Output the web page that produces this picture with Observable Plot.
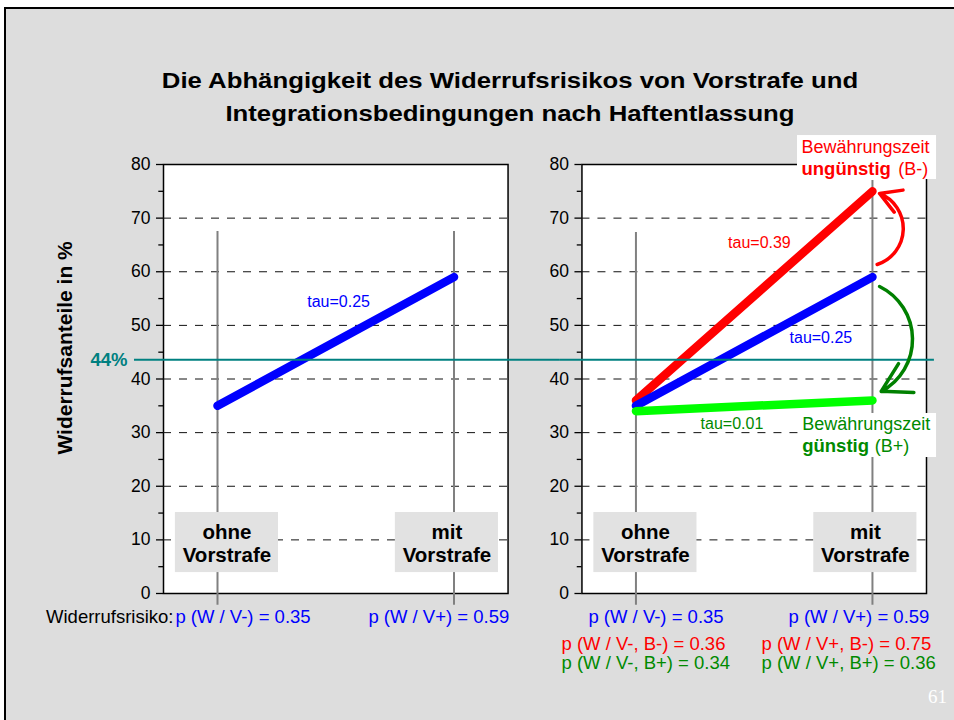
<!DOCTYPE html>
<html><head><meta charset="utf-8">
<script src="https://cdn.jsdelivr.net/npm/d3@7"></script>
<script src="https://cdn.jsdelivr.net/npm/@observablehq/plot@0.6"></script>
<style>
html,body{margin:0;padding:0;background:#fff;}
body{width:954px;height:720px;position:relative;overflow:hidden;font-family:"Liberation Sans",Arial,sans-serif;}
#slide{position:absolute;left:4px;top:7px;right:0;bottom:0;background:#dddddd;border-left:2px solid #000;border-top:2.5px solid #000;}
#chart{position:absolute;left:0;top:0;}
#title{position:absolute;left:33px;top:64px;width:954px;text-align:center;font-weight:bold;font-size:22px;line-height:33px;color:#000;transform:scaleX(1.17);transform-origin:50% 0;}
#pagenum{position:absolute;left:928px;top:687px;font-family:"Liberation Serif","Times New Roman",serif;font-size:19px;line-height:19px;color:#fff;}
</style></head>
<body>
<div id="slide"></div>
<div id="chart"></div>
<div id="title">Die Abhängigkeit des Widerrufsrisikos von Vorstrafe und<br>Integrationsbedingungen nach Haftentlassung</div>
<div id="pagenum">61</div>
<script>
// ---------- data ----------
const panels = ["links", "rechts"];
const vorstrafe = ["ohne\nVorstrafe", "mit\nVorstrafe"];
const condLabels = ["V-", "V+"];
const gesamt = [35, 59];        // Widerrufsanteil in %, alle
const bUnguenstig = [36, 75];   // Bewährungszeit ungünstig (B-)
const bGuenstig = [34, 36];     // Bewährungszeit günstig (B+)
const pGesamt = [0.35, 0.59];
const pUnguenstig = [0.36, 0.75];
const pGuenstig = [0.34, 0.36];
const tauGesamt = 0.25, tauUnguenstig = 0.39, tauGuenstig = 0.01;
const durchschnitt = 43.6;      // "44%"
const yTicks = [0, 10, 20, 30, 40, 50, 60, 70, 80];
const yMinor = [5, 15, 25, 35, 45, 55, 65, 75];
const gridValues = [10, 20, 30, 40, 50, 60, 70];

// ---------- styles ----------
const C = {gesamt: "#0000ff", unguenstig: "#ff0000", guenstig: "#00ff00",
  guenstigText: "#008a00", arrowGreen: "#008000", teal: "#008080", vline: "#808080", box: "#e2e2e2"};
const fmt = d3.format(".2f");

// ---------- layout (annotation anchors, data units) ----------
const W = 954, H = 720, mL = 163, mR = 28, mT = 164, mB = 127;
const padInner = 0.1766;
const bw = (W - mL - mR) * (1 - padInner) / (2 - padInner);
const x0px = 54, unit = 236.5;
const xDomain = [-x0px / unit, (bw - x0px) / unit];

const catCenter = [0.04, 0.97], catHalf = 0.218, catY = [3.9, 15.1], catTextY = 9.42;
const vTops = {links: [67.5, 67.5], rechts: [67.3, 77]}, vBottom = -2.2;

// ---------- derived rows ----------
const lineRows = [];
const addSeries = (panel, key, vals) => vals.forEach((v, i) => lineRows.push({panel, key, x: i, y: v}));
addSeries("rechts", "unguenstig", bUnguenstig);
addSeries("links", "gesamt", gesamt);
addSeries("rechts", "gesamt", gesamt);
addSeries("rechts", "guenstig", bGuenstig);

const vRows = panels.flatMap(p => [0, 1].map(i => ({panel: p, x: i, top: vTops[p][i]})));
const catRows = panels.flatMap(p => vorstrafe.map((label, i) => ({panel: p, x: catCenter[i], label})));

const tauRows = [
  {panel: "links", x: 0.512, y: 54.3, text: `tau=${fmt(tauGesamt)}`, color: C.gesamt},
  {panel: "rechts", x: 0.522, y: 65.3, text: `tau=${fmt(tauUnguenstig)}`, color: C.unguenstig},
  {panel: "rechts", x: 0.782, y: 47.7, text: `tau=${fmt(tauGesamt)}`, color: C.gesamt},
  {panel: "rechts", x: 0.406, y: 31.7, text: `tau=${fmt(tauGuenstig)}`, color: C.guenstigText}
];

const rowY = [-4.48, -9.51, -13.05];
const probRows = [
  ...pGesamt.map((p, i) => ({panel: "links", x: [-0.178, 0.638][i], y: rowY[0], text: `p (W / ${condLabels[i]}) = ${fmt(p)}`, color: C.gesamt})),
  ...pGesamt.map((p, i) => ({panel: "rechts", x: [-0.201, 0.645][i], y: rowY[0], text: `p (W / ${condLabels[i]}) = ${fmt(p)}`, color: C.gesamt})),
  ...pUnguenstig.map((p, i) => ({panel: "rechts", x: [-0.315, 0.531][i], y: rowY[1], text: `p (W / ${condLabels[i]}, B-) = ${fmt(p)}`, color: C.unguenstig})),
  ...pGuenstig.map((p, i) => ({panel: "rechts", x: [-0.315, 0.531][i], y: rowY[2], text: `p (W / ${condLabels[i]}, B+) = ${fmt(p)}`, color: C.guenstigText}))
];

const tealRows = [
  {panel: "links", x1: -0.351, x2: 1.450},
  {panel: "rechts", x1: -0.319, x2: 1.262}
];

const labelBoxes = [
  {panel: "rechts", x1: 0.683, x2: 1.271, y1: 77.2, y2: 85.4},
  {panel: "rechts", x1: 0.691, x2: 1.271, y1: 25.36, y2: 33.57}
];
const labelRegular = [
  {panel: "rechts", x: 0.700, y: 83.17, text: "Bewährungszeit", color: C.unguenstig},
  {panel: "rechts", x: 1.109, y: 79.07, text: "(B-)", color: C.unguenstig},
  {panel: "rechts", x: 0.703, y: 31.52, text: "Bewährungszeit", color: C.guenstigText},
  {panel: "rechts", x: 1.010, y: 27.41, text: "(B+)", color: C.guenstigText}
];
const labelBold = [
  {panel: "rechts", x: 0.700, y: 79.07, text: "ungünstig", color: C.unguenstig},
  {panel: "rechts", x: 0.703, y: 27.41, text: "günstig", color: C.guenstigText}
];

const chart = Plot.plot({
  width: W, height: H,
  marginLeft: mL, marginRight: mR, marginTop: mT, marginBottom: mB,
  style: {fontFamily: "'Liberation Sans', Arial, sans-serif", fontSize: "17px", background: "transparent", color: "black", overflow: "visible"},
  fx: {domain: panels, paddingInner: padInner, paddingOuter: 0, round: false, axis: null, label: null},
  x: {domain: xDomain, axis: null},
  y: {domain: [0, 80], axis: null},
  color: {type: "identity"},
  marks: [
    Plot.frame({fill: "white", stroke: "black", strokeWidth: 1.5}),
    Plot.ruleY(gridValues, {stroke: "#111", strokeWidth: 1, strokeDasharray: "8,8"}),
    Plot.axisY(yTicks, {facetAnchor: null, tickSize: 7, tickPadding: 6, fontSize: 17.5, label: null, strokeWidth: 1.3}),
    Plot.axisY(yMinor, {facetAnchor: null, tickSize: 4.7, text: null, label: null, strokeWidth: 1.3}),
    Plot.ruleX(vRows, {fx: "panel", x: "x", y1: "top", y2: vBottom, stroke: C.vline, strokeWidth: 2}),
    Plot.rect(catRows, {fx: "panel", x1: d => d.x - catHalf, x2: d => d.x + catHalf, y1: catY[0], y2: catY[1], fill: C.box}),
    Plot.text(catRows, {fx: "panel", x: "x", y: catTextY, text: "label", fontWeight: "bold", fontSize: 20.5, lineHeight: 1.12, fill: "black"}),
    Plot.line(lineRows.filter(d => d.key === "unguenstig"), {fx: "panel", x: "x", y: "y", stroke: C.unguenstig, strokeWidth: 8.5, strokeLinecap: "round"}),
    Plot.line(lineRows.filter(d => d.key === "gesamt"), {fx: "panel", x: "x", y: "y", z: "panel", stroke: C.gesamt, strokeWidth: 8.5, strokeLinecap: "round"}),
    Plot.line(lineRows.filter(d => d.key === "guenstig"), {fx: "panel", x: "x", y: "y", stroke: C.guenstig, strokeWidth: 8.5, strokeLinecap: "round"}),
    Plot.ruleY(tealRows, {fx: "panel", y: durchschnitt, x1: "x1", x2: "x2", stroke: C.teal, strokeWidth: 2}),
    Plot.text([{panel: "links"}], {fx: "panel", x: -0.3806, y: durchschnitt, text: () => `${Math.round(durchschnitt)}%`, textAnchor: "end", fill: C.teal, fontWeight: "bold", fontSize: 18.5}),
    Plot.text([{panel: "links"}], {fx: "panel", x: -0.643, y: 45.8, text: () => "Widerrufsanteile in %", rotate: -90, fontWeight: "bold", fontSize: 21, fill: "black"}),
    Plot.text(tauRows, {fx: "panel", x: "x", y: "y", text: "text", fill: "color", fontSize: 16}),
    Plot.arrow([{panel: "rechts"}], {fx: "panel", x1: 1.020, y1: 61.35, x2: 1.030, y2: 74.6, bend: -70, stroke: C.unguenstig, strokeWidth: 3.5, headLength: 14}),
    Plot.arrow([{panel: "rechts"}], {fx: "panel", x1: 1.030, y1: 57.25, x2: 1.037, y2: 37.7, bend: 63, stroke: C.arrowGreen, strokeWidth: 3.5, headLength: 14}),
    Plot.rect(labelBoxes, {fx: "panel", x1: "x1", x2: "x2", y1: "y1", y2: "y2", fill: "white"}),
    Plot.text(labelRegular, {fx: "panel", x: "x", y: "y", text: "text", fill: "color", textAnchor: "start", fontSize: 18}),
    Plot.text(labelBold, {fx: "panel", x: "x", y: "y", text: "text", fill: "color", textAnchor: "start", fontSize: 18.5, fontWeight: "bold"}),
    Plot.text(probRows, {fx: "panel", x: "x", y: "y", text: "text", fill: "color", textAnchor: "start", fontSize: 18.5}),
    Plot.text([{panel: "links"}], {fx: "panel", x: -0.186, y: rowY[0], text: () => "Widerrufsrisiko:", textAnchor: "end", fill: "black", fontSize: 18.5})
  ]
});
document.getElementById("chart").appendChild(chart);
</script>
</body></html>
